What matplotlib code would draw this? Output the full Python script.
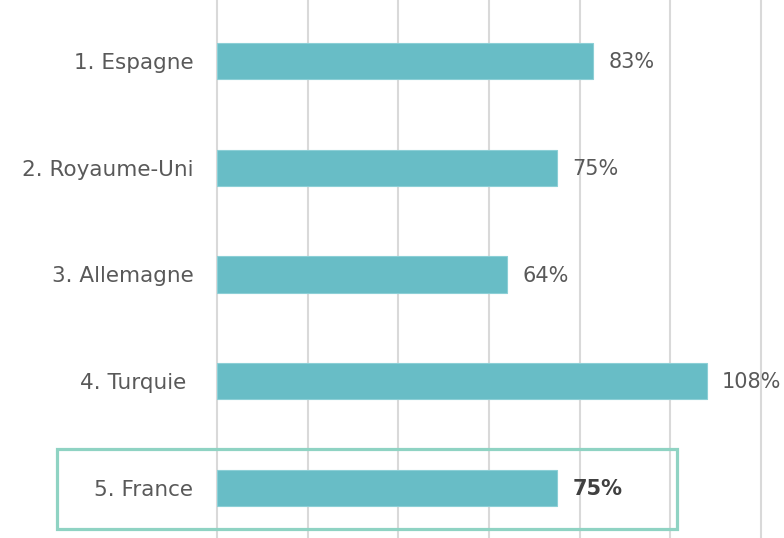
import matplotlib
matplotlib.use("Agg")
import matplotlib.pyplot as plt
from matplotlib.patches import Rectangle

countries = ["1. Espagne", "2. Royaume-Uni", "3. Allemagne", "4. Turquie ", "5. France"]
values = [83, 75, 64, 108, 75]
highlight = "5. France"

BAR = "#68bdc6"
BOX = "#8fd3c3"
TEXT = "#595959"
GRID = "#d9d9d9"

plt.rcParams['font.family'] = ['DejaVu Sans']

fig = plt.figure(figsize=(7.84, 5.38), dpi=100)
ax = fig.add_axes([217 / 784, 0, (761 - 217) / 784, 1])

ypos = list(range(len(countries)))
ax.barh(ypos, values, height=0.34, color=BAR, edgecolor="#8ccfd6", linewidth=0.8, zorder=3)

ax.set_xlim(0, 120)
ax.set_ylim(4.468, -0.571)
ax.set_xticks(range(0, 121, 20))
ax.xaxis.grid(True, color=GRID, linewidth=1.5, zorder=0)
for gl in ax.get_xgridlines():
    gl.set_clip_on(False)
ax.tick_params(axis="x", length=0, labelbottom=False)
ax.tick_params(axis="y", length=0, pad=17, labelsize=15.5, labelcolor=TEXT)
ax.set_yticks(ypos)
ax.set_yticklabels(countries)
for s in ax.spines.values():
    s.set_visible(False)

for y, v, c in zip(ypos, values, countries):
    bold = c == highlight
    ax.annotate(f"{v}%", (v, y + 0.01), xytext=(11, 0), textcoords="offset points",
                va="center", ha="left", fontsize=15, color=TEXT if not bold else "#404040",
                fontweight="bold" if bold else "normal")

# highlight frame around France row
hi = countries.index(highlight)
ax.add_patch(Rectangle((-35.3, hi - 0.365), 136.8, 0.75, fill=False,
                       edgecolor=BOX, linewidth=2.3, clip_on=False, zorder=4))

fig.savefig("out.png", dpi=100)
